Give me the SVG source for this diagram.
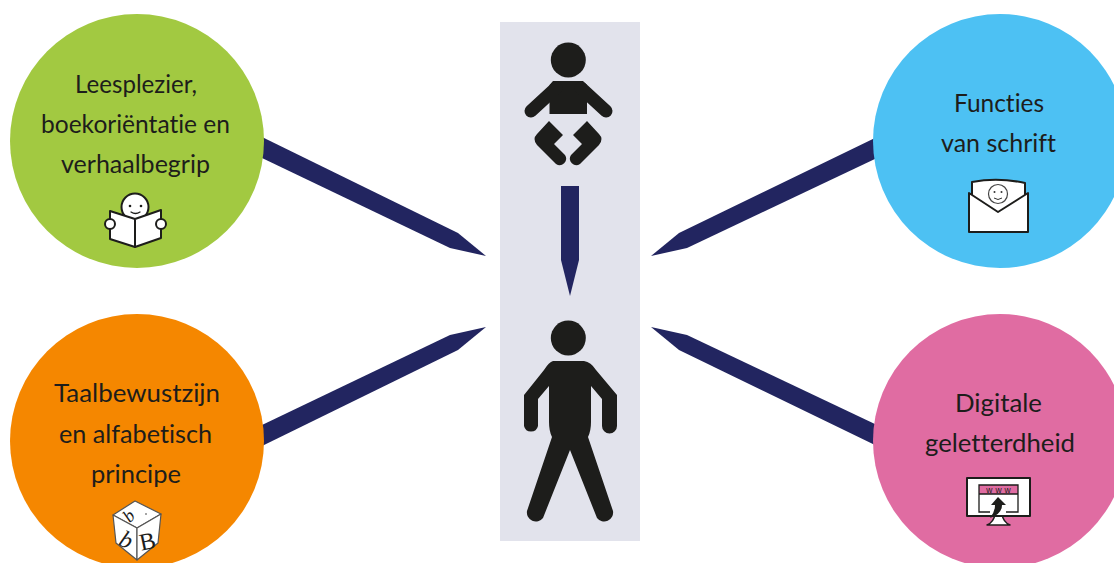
<svg xmlns="http://www.w3.org/2000/svg" width="1114" height="563" viewBox="0 0 1114 563">
<style>
.l{font-family:"Lato","Open Sans","Liberation Sans",sans-serif;font-size:25px;fill:#1d1d1b;text-anchor:middle;font-variant-ligatures:none}
.c{fill:#222560}
.k{fill:#1d1d1b}
.ks{stroke:#1d1d1b;fill:none;stroke-linecap:round;stroke-linejoin:round}
.w{fill:#fff;stroke:#1d1d1b;stroke-width:2;stroke-linejoin:round}
.f{fill:#fff;stroke:#555;stroke-width:1.200;stroke-linejoin:round}
.t{font-family:"Liberation Serif",serif;font-style:italic;fill:#1d1d1b;text-anchor:middle}
</style>
<rect id="band" x="500" y="22" width="140" height="519" fill="#e2e3ec"/>
<g id="connectors">
<polygon class="c" points="262,137 458,233 486,256 450,248 262,158"/>
<polygon class="c" points="877,137 679,233 651,256 687,248 877,158"/>
<polygon class="c" points="262,425 450,335 486,327 458,350 262,446"/>
<polygon class="c" points="877,425 687,335 651,327 679,350 877,446"/>
<polygon class="c" points="561,186 579,186 579,260 570,296 561,260"/>
</g>
<g id="baby">
<circle class="k" cx="568.3" cy="60" r="17.5"/>
<path class="k" d="M553,81H583L587,85V114H549.5V85Z"/>
<path class="ks" stroke-width="13" d="M531,111L556,88M606,111L581,88"/>
<path class="k" d="M549,121L563,135L554,144L565,155A6.500,6.500 0 0 1 556,164L537,145Q532,139 537,134Z"/>
<path class="k" d="M587,121L573,135L582,144L571,155A6.500,6.500 0 0 0 580,164L599,145Q604,139 599,134Z"/>
</g>
<g id="adult">
<circle class="k" cx="568.3" cy="338" r="17.5"/>
<path class="k" d="M553,361H584Q591,362 596,370L617,395V426A7.2,7.2 0 0 1 602,426V399L591,386V422Q591,431 588,437L613,511A9,9 0 0 1 597,518L570,450L543,518A9,9 0 0 1 527,511L552,437Q549,431 549,422V386L538,399V426A7.2,7.2 0 0 1 524,426V395L544,370Q549,362 553,361Z"/>
</g>
<g id="node-leesplezier">
<circle cx="137" cy="141" r="127" fill="#a2c941"/>
<text class="l" x="136" y="93" textLength="122" lengthAdjust="spacingAndGlyphs">Leesplezier,</text>
<text class="l" x="135.500" y="133" textLength="189" lengthAdjust="spacingAndGlyphs">boekoriëntatie en</text>
<text class="l" x="135.500" y="173" textLength="149" lengthAdjust="spacingAndGlyphs">verhaalbegrip</text>
<circle class="w" cx="135" cy="207" r="13.500"/>
<circle class="k" cx="130" cy="206" r="1.300"/><circle class="k" cx="141" cy="206" r="1.300"/>
<path class="ks" stroke-width="1.300" d="M131,212Q135.500,215 140,212"/>
<path class="w" d="M110,211L135,219V247L110,239Z"/>
<path class="w" d="M161,210L135,219V247L161,238Z"/>
<circle class="w" cx="110" cy="224" r="5"/><circle class="w" cx="161" cy="224" r="5"/>
</g>
<g id="node-functies">
<circle cx="1000" cy="141" r="127" fill="#4dc1f3"/>
<text class="l" x="999" y="112" textLength="90" lengthAdjust="spacingAndGlyphs">Functies</text>
<text class="l" x="998.500" y="152" textLength="115" lengthAdjust="spacingAndGlyphs">van schrift</text>
<path class="w" d="M972,182Q998,177 1025,183V212H972Z"/>
<circle cx="998" cy="194" r="9.500" fill="#fff" stroke="#444" stroke-width="1.200"/>
<circle cx="994.500" cy="192" r="1" fill="#333"/><circle cx="1001.500" cy="192" r="1" fill="#333"/>
<path d="M994,198Q998,201 1002,198" fill="none" stroke="#333" stroke-width="1"/>
<path class="w" d="M969,193L998,212L1028,193V232H969Z"/>
</g>
<g id="node-taalbewustzijn">
<circle cx="137" cy="441" r="127" fill="#f58700"/>
<text class="l" x="137" y="402" textLength="166" lengthAdjust="spacingAndGlyphs">Taalbewustzijn</text>
<text class="l" x="135.500" y="443" textLength="153" lengthAdjust="spacingAndGlyphs">en alfabetisch</text>
<text class="l" x="136" y="483" textLength="90" lengthAdjust="spacingAndGlyphs">principe</text>
<path class="f" d="M135,501L161,514L137,528L113,515Z"/>
<path class="f" d="M113,515L137,528V560L116,543Z"/>
<path class="f" d="M161,514L137,528V560L158,543Z"/>
<text class="t" font-size="18" transform="translate(133,520) rotate(-45)">b</text>
<circle cx="146" cy="514" r="0.800" fill="#333"/>
<text class="t" font-size="24" transform="translate(123,547) rotate(25)">b</text>
<text class="t" font-size="24" style="font-style:normal" transform="translate(149,549) rotate(-12)">B</text>
</g>
<g id="node-digitale">
<circle cx="1000" cy="441" r="127" fill="#e06ca2"/>
<text class="l" x="998.500" y="412" textLength="87" lengthAdjust="spacingAndGlyphs">Digitale</text>
<text class="l" x="1000" y="452" textLength="150" lengthAdjust="spacingAndGlyphs">geletterdheid</text>
<path d="M995,514Q994,522 987,525H1010Q1003,522 1002,514Z" fill="#fff" stroke="#1d1d1b" stroke-width="1.500" stroke-linejoin="round"/>
<rect class="w" x="967" y="478" width="63" height="38"/>
<path fill="#e06ca2" d="M979,485H1018V494H979Z"/>
<path fill="none" stroke="#1d1d1b" stroke-width="1.300" d="M990,512H979V485H1018V512H1006M979,494H1018"/>
<text x="1000" y="492.500" font-family="Liberation Sans,sans-serif" font-size="8.500" letter-spacing="3" text-anchor="middle" fill="#1d1d1b">www</text>
<path class="k" d="M998,497L1006,505H1002Q1002,514 990,518Q995,512 995,505H991Z"/>
</g>
</svg>
